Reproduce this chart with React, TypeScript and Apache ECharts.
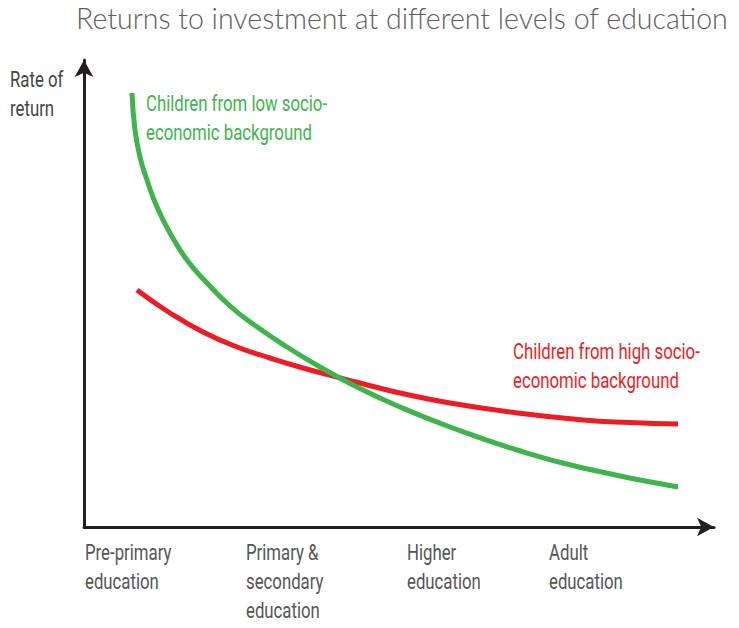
import React, { useEffect, useRef } from "react";
import * as echarts from "echarts";

const titleText = "Returns to investment at different levels of education";
const yAxisTitle = "Rate of\nreturn";
const categoryLabels = ["Pre-primary\neducation", "Primary &\nsecondary\neducation", "Higher\neducation", "Adult\neducation"];
const categoryPositions = [1, 162, 323, 465];

const lowSES: [number, number][] = [
  [48, 434], [51, 397], [56, 370], [63, 347], [73, 320], [86, 294], [103, 267], [123, 244],
  [146, 221], [169, 203], [203, 180], [236, 160], [273, 140], [316, 120], [366, 100],
  [433, 77], [499, 59], [594, 40],
];
const highSES: [number, number][] = [
  [53, 237], [86, 214], [119, 195], [153, 180], [186, 169], [219, 159], [253, 150],
  [276, 144], [316, 134], [366, 124], [433, 114], [499, 107], [546, 104.5], [594, 103],
];
const lowLabel = "Children from low socio-\neconomic background";
const highLabel = "Children from high socio-\neconomic background";

const CFONT = "Roboto";
const CSIZE = 22;

function condenseFactor(): number {
  const c = document.createElement("canvas").getContext("2d");
  if (!c) return 0.78;
  c.font = `${CSIZE}px ${CFONT}`;
  const w = c.measureText("Children from high socio-").width;
  return w > 0 ? 187 / w : 0.78;
}

export default function App() {
  const ref = useRef<HTMLDivElement>(null);
  useEffect(() => {
    const chart = echarts.init(ref.current!, null, { renderer: "svg" });
    chart.setOption({
      animation: false,
      backgroundColor: "#fff",
      grid: { left: 84, right: 25, top: 60, bottom: 101 },
      xAxis: {
        type: "value",
        min: 0,
        max: 630,
        splitLine: { show: false },
        axisTick: { show: false },
        axisLabel: { show: false },
        axisLine: { show: true, symbol: ["none", "arrow"], symbolSize: [14, 17], lineStyle: { color: "#231f20", width: 3 } },
      },
      yAxis: {
        type: "value",
        min: 0,
        max: 467,
        splitLine: { show: false },
        axisTick: { show: false },
        axisLabel: { show: false },
        axisLine: { show: true, symbol: ["none", "arrow"], symbolSize: [14, 17], lineStyle: { color: "#231f20", width: 3 } },
      },
      series: [
        {
          type: "line",
          data: lowSES,
          smooth: 0.5,
          showSymbol: false,
          lineStyle: { color: "#3db54a", width: 5 },
          z: 3,
        },
        {
          type: "line",
          data: highSES,
          smooth: 0.5,
          showSymbol: false,
          lineStyle: { color: "#ed1c24", width: 5 },
          z: 2,
        },
      ],
    });

    const f = condenseFactor();
    const axisY = chart.convertToPixel({ yAxisIndex: 0 }, 0) as number;
    const condText = (text: string, x: number, y: number, fill: string) => ({
      type: "text",
      x,
      y,
      scaleX: f,
      style: {
        text,
        x: 0,
        y: 0,
        fill,
        fontFamily: CFONT,
        fontSize: CSIZE,
        lineHeight: 29,
        align: "left",
        verticalAlign: "top",
      },
    });
    const catTexts = categoryPositions.map((v, i) =>
      condText(categoryLabels[i], chart.convertToPixel({ xAxisIndex: 0 }, v) as number, axisY + 11, "#555")
    );

    chart.setOption({
      graphic: [
        {
          type: "text",
          left: 76,
          top: 3,
          style: { text: titleText, fill: "#5e5e5e", font: '300 28.5px "Lato", "Noto Sans", sans-serif' },
        },
        condText(yAxisTitle, 10, 65, "#444"),
        condText(lowLabel, 146, 89, "#3db54a"),
        condText(highLabel, 513, 337, "#ed1c24"),
        ...catTexts,
      ],
    });
    return () => chart.dispose();
  }, []);
  return <div ref={ref} style={{ width: 739, height: 628, margin: -8 }} />;
}
